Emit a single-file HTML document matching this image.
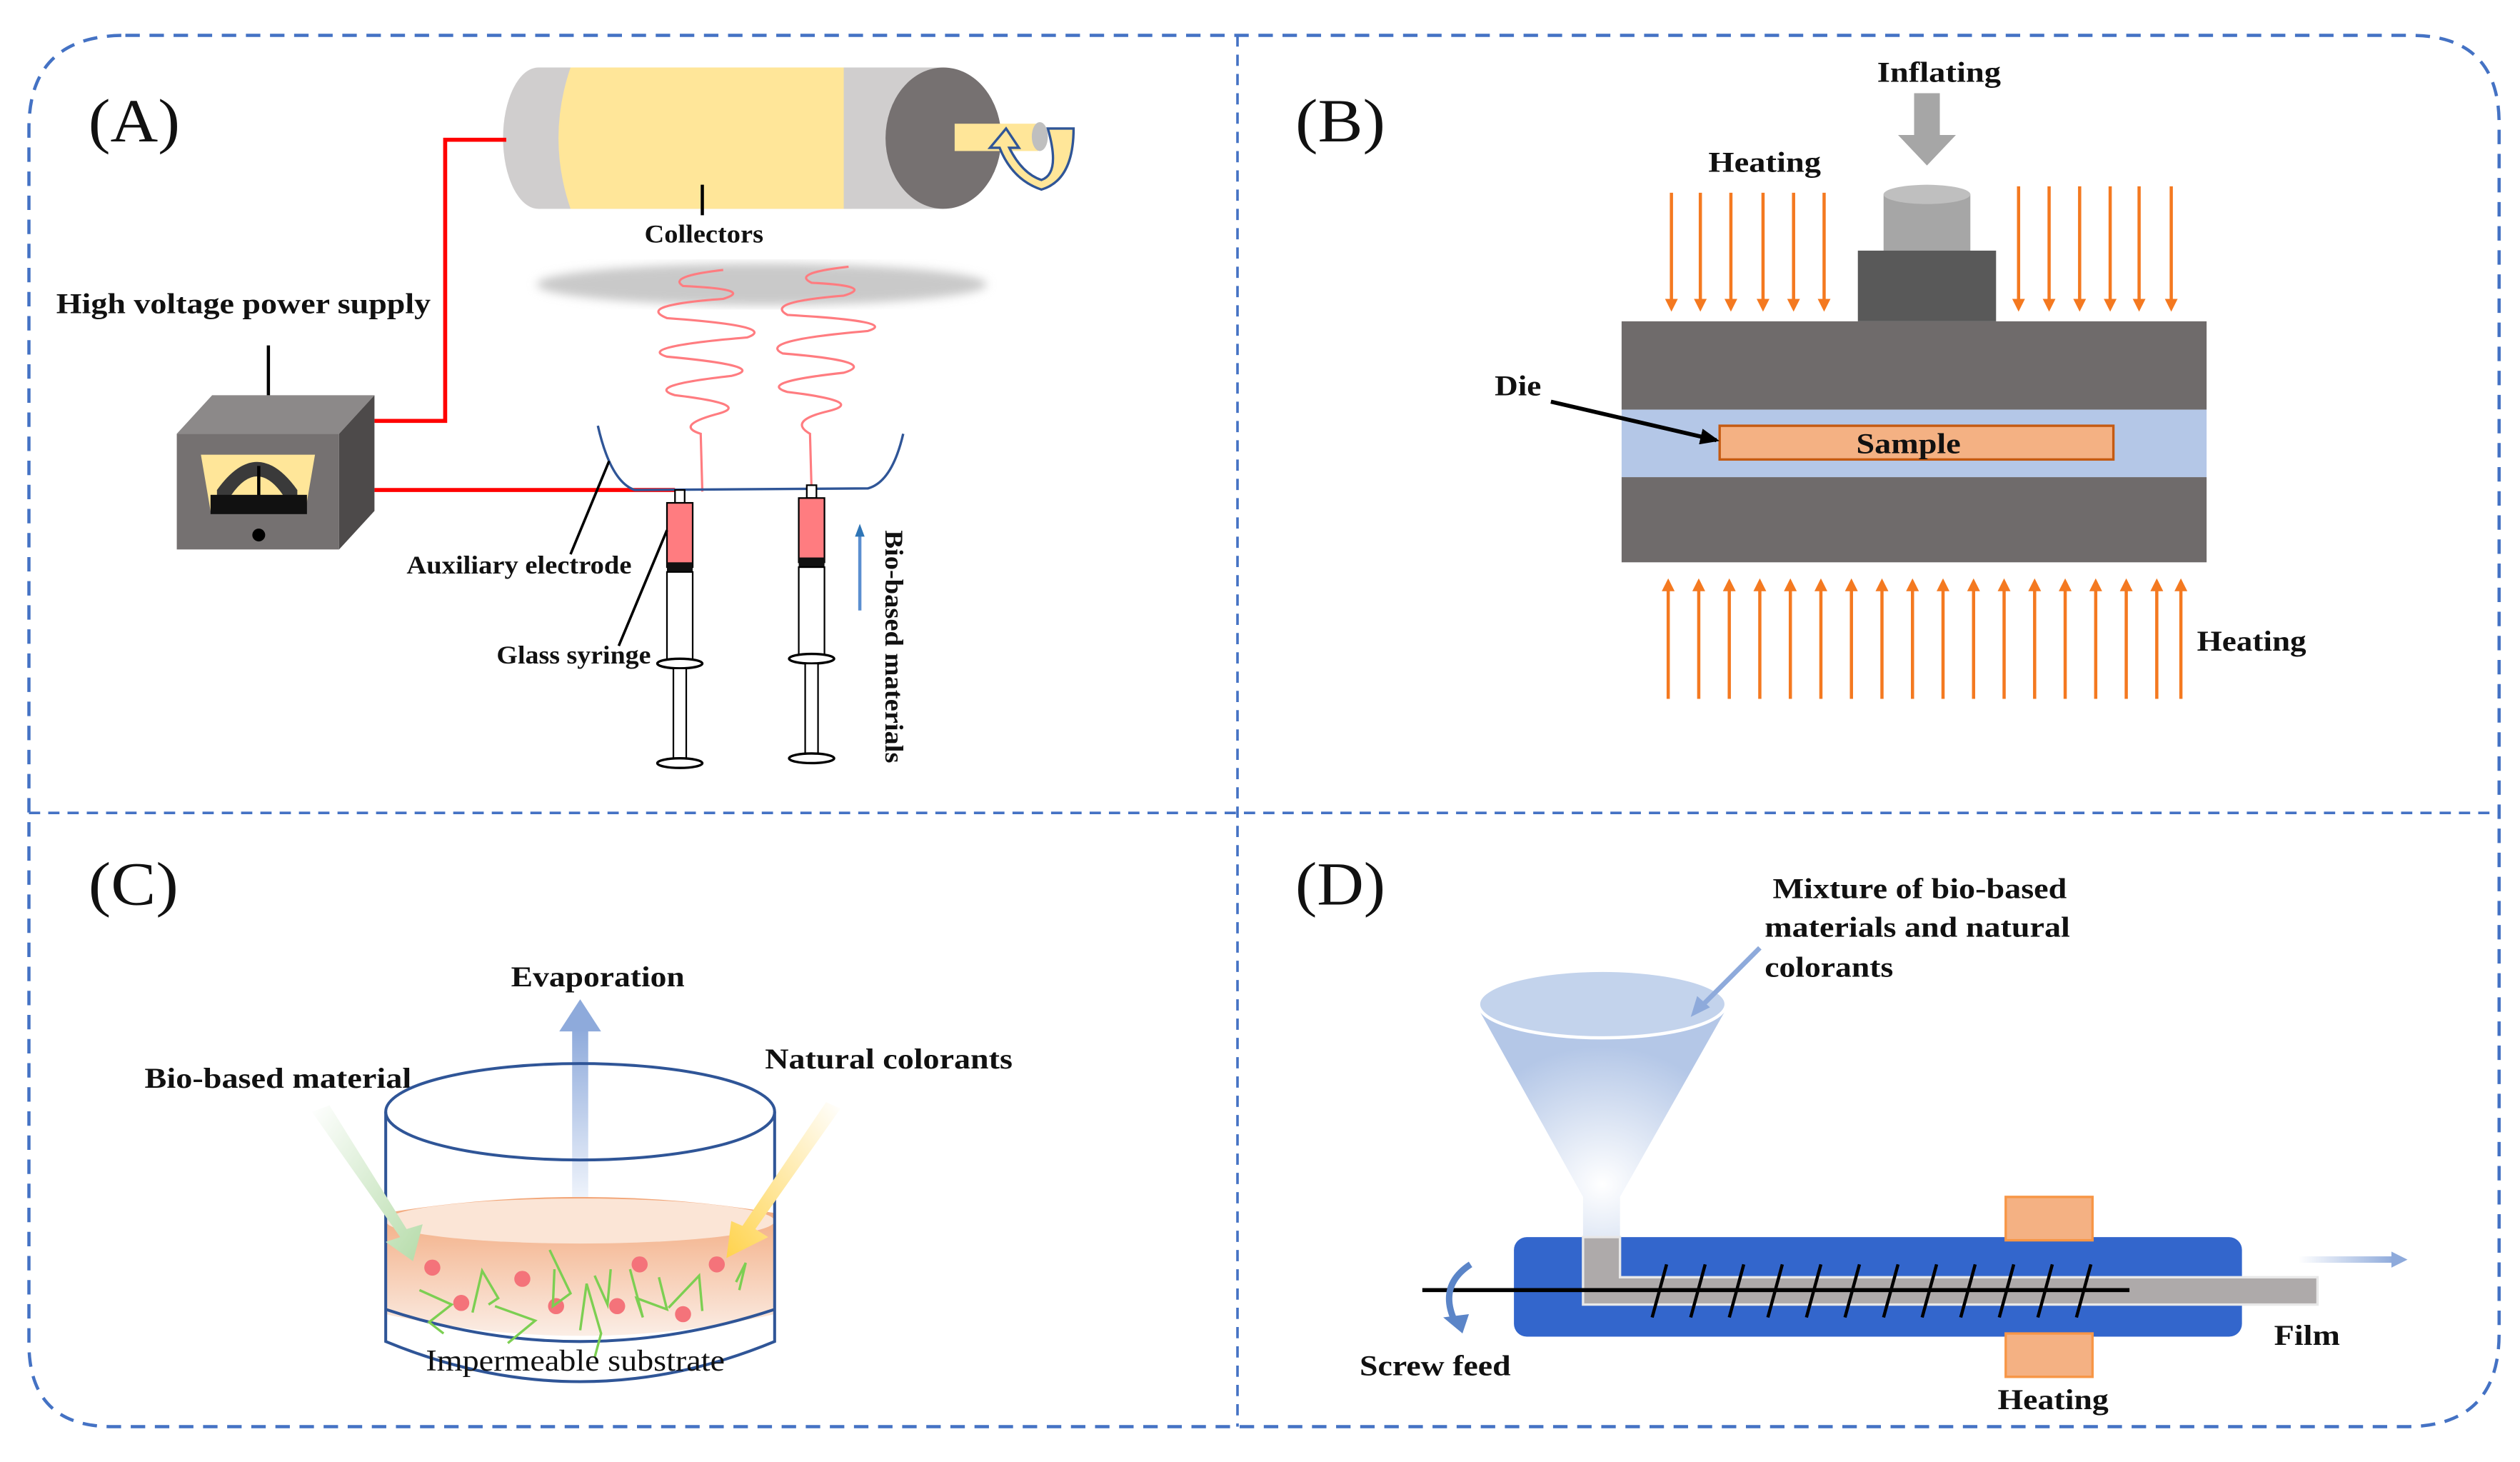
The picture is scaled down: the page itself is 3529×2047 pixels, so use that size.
<!DOCTYPE html>
<html><head><meta charset="utf-8"><style>
html,body{margin:0;padding:0;background:#fff;}
svg{display:block;}
text{font-family:"Liberation Serif",serif;fill:#111;}
.b{font-weight:bold;font-size:18px;}
.s{font-weight:bold;font-size:16px;}
</style></head><body>
<svg width="3529" height="2047" viewBox="0 0 1568 910" preserveAspectRatio="none" xmlns="http://www.w3.org/2000/svg">
<defs>
<linearGradient id="liq" x1="0" y1="0" x2="0" y2="1"><stop offset="0" stop-color="#f2a577"/><stop offset="1" stop-color="#fbeee6"/></linearGradient>
<linearGradient id="evap" x1="0" y1="1" x2="0" y2="0"><stop offset="0" stop-color="#eef3fb"/><stop offset="1" stop-color="#8eaadb"/></linearGradient>
<linearGradient id="grn" x1="0" y1="0" x2="1" y2="1"><stop offset="0" stop-color="#ffffff"/><stop offset="1" stop-color="#b6dcaa"/></linearGradient>
<linearGradient id="yel" x1="1" y1="0" x2="0" y2="1"><stop offset="0" stop-color="#ffffff"/><stop offset="1" stop-color="#ffd34d"/></linearGradient>
<linearGradient id="film" x1="0" y1="0" x2="1" y2="0"><stop offset="0" stop-color="#ffffff"/><stop offset="1" stop-color="#8eaadb"/></linearGradient>
<radialGradient id="fun" cx="0.5" cy="0.75" r="0.6"><stop offset="0" stop-color="#ffffff"/><stop offset="1" stop-color="#b4c7e7"/></radialGradient>
<filter id="blur"><feGaussianBlur stdDeviation="3"/></filter>
<marker id="ah" markerWidth="8" markerHeight="8" refX="6" refY="4" orient="auto" markerUnits="userSpaceOnUse"><path d="M0,0 L8,4 L0,8 z" fill="#f47920"/></marker>
<marker id="bk" markerWidth="12" markerHeight="10" refX="10" refY="5" orient="auto" markerUnits="userSpaceOnUse"><path d="M0,0 L12,5 L0,10 z" fill="#000"/></marker>
</defs>

<!-- frame -->
<path d="M78,22 H1500 Q1555,22 1555,77 V830 Q1555,888 1497,888 H70 Q18,888 18,836 V80 Q18,22 78,22 Z" fill="none" stroke="#4472c4" stroke-width="2" stroke-dasharray="9,6"/>
<line x1="770" y1="22" x2="770" y2="888" stroke="#4472c4" stroke-width="1.6" stroke-dasharray="7,5"/>
<line x1="18" y1="506" x2="1555" y2="506" stroke="#4472c4" stroke-width="1.6" stroke-dasharray="7,5"/>

<!-- ===== A ===== -->
<text x="55" y="88" font-size="38" textLength="57" lengthAdjust="spacingAndGlyphs">(A)</text>
<ellipse cx="335" cy="86" rx="22" ry="44" fill="#d0cece"/>
<rect x="335" y="42" width="190" height="88" fill="#d0cece"/>
<path d="M355,42 H530 V130 H355 Q340,86 355,42 Z" fill="#ffe699"/>
<rect x="525" y="42" width="62" height="88" fill="#d0cece"/>
<ellipse cx="587" cy="86" rx="36" ry="44" fill="#767171"/>
<rect x="594" y="77" width="52" height="17" fill="#ffe699"/>
<ellipse cx="647" cy="85" rx="5" ry="9" fill="#bfbfbf"/>
<path d="M652,80 L668,80 Q668,112 648,118 Q630,112 622,92 L616,92 L626,80 L634,92 L628,92 Q636,108 648,112 Q660,108 652,80 Z" fill="#ffe699" stroke="#2f5597" stroke-width="1.5"/>
<line x1="437" y1="115" x2="437" y2="134" stroke="#000" stroke-width="2"/>
<text x="401" y="151" class="s" textLength="74" lengthAdjust="spacingAndGlyphs">Collectors</text>
<polyline points="315,87 277,87 277,262 233,262" fill="none" stroke="#ff0000" stroke-width="2.5"/>
<line x1="233" y1="305" x2="420" y2="305" stroke="#ff0000" stroke-width="2.5"/>
<ellipse cx="474" cy="177" rx="140" ry="13" fill="#c9c9c9" filter="url(#blur)"/>
<path d="M437,306 L436,270 Q420,265 445,258 Q470,252 420,246 Q400,240 455,234 Q480,228 415,222 Q395,216 465,210 Q485,203 415,198 Q395,190 450,186 Q470,180 425,178 Q415,172 450,168" fill="none" stroke="#ff7c80" stroke-width="1.4"/>
<path d="M505,306 L504,270 Q490,262 515,256 Q540,250 490,244 Q470,238 525,232 Q548,225 487,220 Q470,212 540,206 Q560,200 490,196 Q475,188 525,184 Q545,178 505,176 Q492,170 528,166" fill="none" stroke="#ff7c80" stroke-width="1.4"/>
<path d="M372,265 Q380,300 395,305 L540,304 Q555,300 562,270" fill="none" stroke="#2f5597" stroke-width="1.5"/>
<polygon points="110,270 132,246 233,246 211,270" fill="#8c8989"/>
<polygon points="211,270 233,246 233,318 211,342" fill="#4d4a4a"/>
<rect x="110" y="270" width="101" height="72" fill="#757171"/>
<polygon points="125,283 196,283 190,318 131,318" fill="#ffe699"/>
<path d="M135,318 V305 Q160,270 185,305 V318 Z" fill="#3a3a3a"/>
<path d="M144,318 V308 Q160,285 176,308 V318 Z" fill="#ffe699"/>
<rect x="160" y="290" width="2" height="22" fill="#000"/>
<rect x="131" y="308" width="60" height="12" fill="#111"/>
<circle cx="161" cy="333" r="4" fill="#000"/>
<line x1="167" y1="215" x2="167" y2="246" stroke="#000" stroke-width="2"/>
<text x="35" y="195" class="b" textLength="233" lengthAdjust="spacingAndGlyphs">High voltage power supply</text>
<g>
<rect x="420" y="305" width="6" height="8" fill="#fff" stroke="#000"/>
<rect x="415" y="313" width="16" height="40" fill="#ff7c80" stroke="#000"/>
<rect x="415" y="350" width="16" height="6" fill="#111"/>
<rect x="415" y="356" width="16" height="56" fill="#fff" stroke="#000"/>
<ellipse cx="423" cy="413" rx="14" ry="3" fill="#fff" stroke="#000" stroke-width="1.5"/>
<rect x="419" y="416" width="8" height="58" fill="#fff" stroke="#000"/>
<ellipse cx="423" cy="475" rx="14" ry="3" fill="#fff" stroke="#000" stroke-width="1.5"/>
</g>
<g>
<rect x="502" y="302" width="6" height="8" fill="#fff" stroke="#000"/>
<rect x="497" y="310" width="16" height="40" fill="#ff7c80" stroke="#000"/>
<rect x="497" y="347" width="16" height="6" fill="#111"/>
<rect x="497" y="353" width="16" height="56" fill="#fff" stroke="#000"/>
<ellipse cx="505" cy="410" rx="14" ry="3" fill="#fff" stroke="#000" stroke-width="1.5"/>
<rect x="501" y="413" width="8" height="58" fill="#fff" stroke="#000"/>
<ellipse cx="505" cy="472" rx="14" ry="3" fill="#fff" stroke="#000" stroke-width="1.5"/>
</g>
<line x1="379" y1="287" x2="355" y2="345" stroke="#000" stroke-width="1.6"/>
<text x="253" y="357" class="s" textLength="140" lengthAdjust="spacingAndGlyphs">Auxiliary electrode</text>
<line x1="415" y1="330" x2="385" y2="402" stroke="#000" stroke-width="1.6"/>
<text x="309" y="413" class="s" textLength="96" lengthAdjust="spacingAndGlyphs">Glass syringe</text>
<line x1="535" y1="380" x2="535" y2="332" stroke="#5b8fd0" stroke-width="2"/>
<path d="M532,334 L535,326 L538,334 Z" fill="#2e75b6"/>
<text transform="translate(551,330) rotate(90)" class="s" textLength="145" lengthAdjust="spacingAndGlyphs">Bio-based materials</text>

<!-- ===== B ===== -->
<text x="806" y="88" font-size="38" textLength="56" lengthAdjust="spacingAndGlyphs">(B)</text>
<text x="1168" y="51" class="b" textLength="77" lengthAdjust="spacingAndGlyphs">Inflating</text>
<polygon points="1191,58 1207,58 1207,84 1217,84 1199,103 1181,84 1191,84" fill="#a6a6a6"/>
<text x="1063" y="107" class="b" textLength="70" lengthAdjust="spacingAndGlyphs">Heating</text>
<g stroke="#f47920" stroke-width="2" marker-end="url(#ah)">
<line x1="1040" y1="120" x2="1040" y2="192"/><line x1="1058" y1="120" x2="1058" y2="192"/><line x1="1077" y1="120" x2="1077" y2="192"/><line x1="1097" y1="120" x2="1097" y2="192"/><line x1="1116" y1="120" x2="1116" y2="192"/><line x1="1135" y1="120" x2="1135" y2="192"/>
<line x1="1256" y1="116" x2="1256" y2="192"/><line x1="1275" y1="116" x2="1275" y2="192"/><line x1="1294" y1="116" x2="1294" y2="192"/><line x1="1313" y1="116" x2="1313" y2="192"/><line x1="1331" y1="116" x2="1331" y2="192"/><line x1="1351" y1="116" x2="1351" y2="192"/>
</g>
<rect x="1172" y="121" width="54" height="36" fill="#a6a6a6"/>
<ellipse cx="1199" cy="121" rx="27" ry="6" fill="#bfbfbf"/>
<rect x="1156" y="156" width="86" height="44" fill="#595959"/>
<rect x="1009" y="200" width="364" height="55" fill="#6f6b6b"/>
<rect x="1009" y="255" width="364" height="42" fill="#b4c7e7"/>
<rect x="1009" y="297" width="364" height="53" fill="#6f6b6b"/>
<rect x="1070" y="265" width="245" height="21" fill="#f4b183" stroke="#c55a11" stroke-width="1.5"/>
<text x="1155" y="282" class="b" textLength="65" lengthAdjust="spacingAndGlyphs">Sample</text>
<text x="930" y="246" class="b" textLength="29" lengthAdjust="spacingAndGlyphs">Die</text>
<line x1="965" y1="250" x2="1068" y2="274" stroke="#000" stroke-width="2.5" marker-end="url(#bk)"/>
<g stroke="#f47920" stroke-width="2" marker-end="url(#ah)">
<line x1="1038" y1="435" x2="1038" y2="362"/><line x1="1057" y1="435" x2="1057" y2="362"/><line x1="1076" y1="435" x2="1076" y2="362"/><line x1="1095" y1="435" x2="1095" y2="362"/><line x1="1114" y1="435" x2="1114" y2="362"/><line x1="1133" y1="435" x2="1133" y2="362"/><line x1="1152" y1="435" x2="1152" y2="362"/><line x1="1171" y1="435" x2="1171" y2="362"/><line x1="1190" y1="435" x2="1190" y2="362"/><line x1="1209" y1="435" x2="1209" y2="362"/><line x1="1228" y1="435" x2="1228" y2="362"/><line x1="1247" y1="435" x2="1247" y2="362"/><line x1="1266" y1="435" x2="1266" y2="362"/><line x1="1285" y1="435" x2="1285" y2="362"/><line x1="1304" y1="435" x2="1304" y2="362"/><line x1="1323" y1="435" x2="1323" y2="362"/><line x1="1342" y1="435" x2="1342" y2="362"/><line x1="1357" y1="435" x2="1357" y2="362"/>
</g>
<text x="1367" y="405" class="b" textLength="68" lengthAdjust="spacingAndGlyphs">Heating</text>

<!-- ===== C ===== -->
<text x="55" y="563" font-size="38" textLength="56" lengthAdjust="spacingAndGlyphs">(C)</text>
<text x="318" y="614" class="b" textLength="108" lengthAdjust="spacingAndGlyphs">Evaporation</text>
<text x="90" y="677" class="b" textLength="166" lengthAdjust="spacingAndGlyphs">Bio-based material</text>
<text x="476" y="665" class="b" textLength="154" lengthAdjust="spacingAndGlyphs">Natural colorants</text>
<path d="M240,755 Q361,735 482,755 V818 Q361,845 240,818 Z" fill="url(#liq)"/>
<ellipse cx="361" cy="760" rx="121" ry="14" fill="#fbe5d6"/>
<rect x="356" y="640" width="10" height="105" fill="url(#evap)"/>
<polygon points="348,642 361,622 374,642" fill="#8eaadb"/>
<ellipse cx="361" cy="692" rx="121" ry="30" fill="none" stroke="#2f5597" stroke-width="1.8"/>
<path d="M240,692 V835 Q361,885 482,835 V692" fill="none" stroke="#2f5597" stroke-width="1.8"/>
<path d="M240,815 Q361,855 482,815" fill="none" stroke="#2f5597" stroke-width="1.8"/>
<polygon points="194,692 205,688 253,765 263,762 257,785 240,773 249,770" fill="url(#grn)"/>
<polygon points="514,686 523,690 470,765 478,770 452,783 455,760 462,763" fill="url(#yel)"/>
<g fill="#f4737a"><circle cx="269" cy="789" r="5"/><circle cx="287" cy="811" r="5"/><circle cx="325" cy="796" r="5"/><circle cx="346" cy="813" r="5"/><circle cx="384" cy="813" r="5"/><circle cx="398" cy="787" r="5"/><circle cx="425" cy="818" r="5"/><circle cx="446" cy="787" r="5"/></g>
<g fill="none" stroke="#7ccf52" stroke-width="1.5">
<polyline points="261,803 281,812 267,823 276,830"/><polyline points="294,817 300,791 310,808 304,812"/><polyline points="308,813 333,822 316,836"/><polyline points="342,778 355,805 344,813 345,790"/><polyline points="361,828 365,799 374,830 370,845"/><polyline points="370,794 378,812 380,790"/><polyline points="392,790 400,820 396,808 415,815 410,795"/><polyline points="416,814 435,794 437,816"/><polyline points="458,798 464,786 460,803"/>
</g>
<text x="265" y="853" style="font-size:19px" textLength="186" lengthAdjust="spacingAndGlyphs">Impermeable substrate</text>

<!-- ===== D ===== -->
<text x="806" y="563" font-size="38" textLength="56" lengthAdjust="spacingAndGlyphs">(D)</text>
<text x="1103" y="559" class="b" textLength="183" lengthAdjust="spacingAndGlyphs">Mixture of bio-based</text>
<text x="1098" y="583" class="b" textLength="190" lengthAdjust="spacingAndGlyphs">materials and natural</text>
<text x="1098" y="608" class="b" textLength="80" lengthAdjust="spacingAndGlyphs">colorants</text>
<path d="M921,630 L985,745 V773 H1008 V745 L1073,630 Z" fill="url(#fun)"/>
<ellipse cx="997" cy="625" rx="77" ry="21" fill="#c3d3ec" stroke="#fff" stroke-width="2"/>
<line x1="1095" y1="590" x2="1057" y2="628" stroke="#8eaadb" stroke-width="3"/>
<polygon points="1052,633 1056,620 1064,627" fill="#8eaadb"/>
<rect x="942" y="770" width="453" height="62" rx="8" fill="#3366cc"/>
<path d="M985,770 V812 H1442 V795 H1008 V770 Z" fill="#aeaaaa" stroke="#e8e8e8" stroke-width="1.5"/>
<line x1="885" y1="803" x2="1325" y2="803" stroke="#000" stroke-width="2.5"/>
<g stroke="#000" stroke-width="2">
<line x1="1028" y1="820" x2="1037" y2="787"/><line x1="1052" y1="820" x2="1061" y2="787"/><line x1="1076" y1="820" x2="1085" y2="787"/><line x1="1100" y1="820" x2="1109" y2="787"/><line x1="1124" y1="820" x2="1133" y2="787"/><line x1="1148" y1="820" x2="1157" y2="787"/><line x1="1172" y1="820" x2="1181" y2="787"/><line x1="1196" y1="820" x2="1205" y2="787"/><line x1="1220" y1="820" x2="1229" y2="787"/><line x1="1244" y1="820" x2="1253" y2="787"/><line x1="1268" y1="820" x2="1277" y2="787"/><line x1="1292" y1="820" x2="1301" y2="787"/>
</g>
<rect x="1248" y="745" width="54" height="27" fill="#f4b183" stroke="#f79646" stroke-width="1.5"/>
<rect x="1248" y="830" width="54" height="27" fill="#f4b183" stroke="#f79646" stroke-width="1.5"/>
<rect x="1430" y="782" width="60" height="4" fill="url(#film)"/>
<polygon points="1488,779 1498,784 1488,789" fill="#8eaadb"/>
<path d="M915,787 Q895,800 905,822" fill="none" stroke="#5b85c8" stroke-width="4"/>
<polygon points="898,820 914,818 910,830" fill="#5b85c8"/>
<text x="846" y="856" class="b" textLength="94" lengthAdjust="spacingAndGlyphs">Screw feed</text>
<text x="1243" y="877" class="b" textLength="69" lengthAdjust="spacingAndGlyphs">Heating</text>
<text x="1415" y="837" class="b" textLength="41" lengthAdjust="spacingAndGlyphs">Film</text>
</svg>
</body></html>
